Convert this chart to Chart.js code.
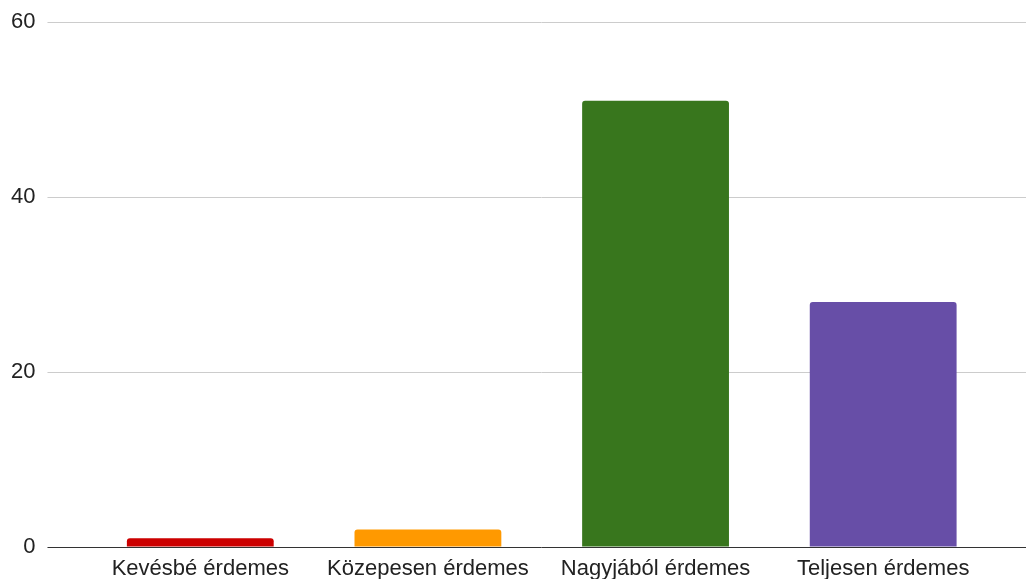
<!DOCTYPE html>
<html>
<head>
<meta charset="utf-8">
<script src="https://cdn.jsdelivr.net/npm/chart.js@4"></script>
<style>
  html, body { margin: 0; padding: 0; background: #fff; }
  #wrap { width: 1026px; height: 579px; }
</style>
</head>
<body>
<div id="wrap"><canvas id="chartCanvas" width="1026" height="579"></canvas></div>
<script>
const categories = ["Kevésbé érdemes", "Közepesen érdemes", "Nagyjából érdemes", "Teljesen érdemes"];
const answerCounts = [1, 2, 51, 28];
const barColors = ["#cc0000", "#ff9900", "#38761d", "#674ea7"];
const yTicks = [0, 20, 40, 60];

const gridColor = function (c) {
    return c.tick && c.tick.value === 0 ? "#333333" : "#cccccc"; // baseline darker
};

const ctx = document.getElementById("chartCanvas").getContext("2d");

new Chart(ctx, {
    type: "bar",
    data: {
        labels: categories,
        datasets: [{
            data: answerCounts,
            backgroundColor: barColors,
            borderRadius: 3,
            borderSkipped: "start",
            categoryPercentage: 1,
            barPercentage: 0.645
        }]
    },
    options: {
        responsive: false,
        animation: false,
        layout: { padding: { top: 22, left: -1, right: 0, bottom: -11 } },
        plugins: { legend: { display: false }, tooltip: { enabled: false } },
        scales: {
            x: {
                grid: { display: false, drawTicks: false },
                border: { display: false },
                ticks: {
                    color: "#222222",
                    padding: 11,
                    maxRotation: 0,
                    autoSkip: false,
                    font: { family: "'Liberation Sans', Arial, sans-serif", size: 22, lineHeight: 0.95 }
                }
            },
            y: {
                min: yTicks[0],
                max: yTicks[yTicks.length - 1],
                border: { display: false },
                grid: { color: gridColor, tickColor: gridColor, tickLength: 39 },
                ticks: {
                    stepSize: 20,
                    padding: 12,
                    color: "#222222",
                    font: { family: "'Liberation Sans', Arial, sans-serif", size: 22, lineHeight: 0.2 }
                }
            },
            yRight: {
                position: "right",
                min: yTicks[0],
                max: yTicks[yTicks.length - 1],
                border: { display: false },
                grid: { color: gridColor, tickColor: gridColor, tickLength: 29, drawOnChartArea: false },
                ticks: { stepSize: 20, display: false }
            }
        }
    }
});
</script>
</body>
</html>
